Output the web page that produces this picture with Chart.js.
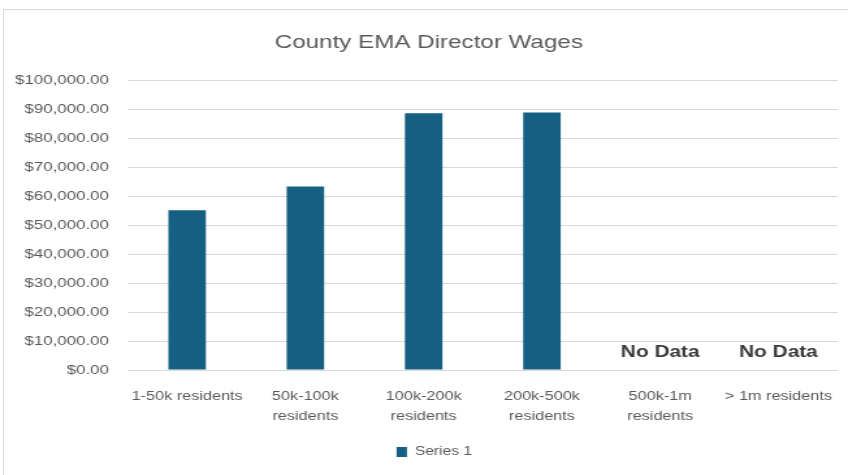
<!DOCTYPE html>
<html>
<head>
<meta charset="utf-8">
<title>County EMA Director Wages</title>
<script src="https://cdn.jsdelivr.net/npm/chart.js@4.4.1/dist/chart.umd.min.js"></script>
<style>
  html, body { margin: 0; padding: 0; background: #ffffff; overflow: hidden; }
  body { width: 848px; height: 475px; position: relative; }
  #frame {
    position: absolute; left: 3px; top: 9px; width: 900px; height: 600px;
    border: 1px solid #d9d9d9; box-sizing: border-box;
  }
  /* the chart is laid out narrow and widened, like the stretched Office export */
  #wrap {
    position: absolute; left: 0; top: 0; width: 652px; height: 475px;
    transform: scaleX(1.3006); transform-origin: 0 0;
  }
</style>
</head>
<body>
<div id="frame"></div>
<div id="wrap"><canvas id="wages"></canvas></div>
<script>
const categories = [
  '1-50k residents',
  ['50k-100k', 'residents'],
  ['100k-200k', 'residents'],
  ['200k-500k', 'residents'],
  ['500k-1m', 'residents'],
  '> 1m residents'
];
const series1 = [55100, 63300, 88500, 88800, null, null];
const yTicksMax = 100000;
const yTicksStep = 10000;

const textGrey = '#595959';
const barBlue = '#156082';
const fontFamily = "'Liberation Sans', Arial, sans-serif";

const money = v => '$' + Number(v).toLocaleString('en-US', { minimumFractionDigits: 2, maximumFractionDigits: 2 });

// writes "No Data" over the categories that have no value
const noDataPlugin = {
  id: 'noData',
  afterDatasetsDraw(chart) {
    const { ctx, scales: { x, y } } = chart;
    ctx.save();
    ctx.font = "bold 16px " + fontFamily;
    ctx.fillStyle = '#3a3a3a';
    ctx.textAlign = 'center';
    ctx.textBaseline = 'middle';
    series1.forEach((v, i) => {
      if (v === null) {
        ctx.fillText('No Data', x.getPixelForValue(i), y.getPixelForValue(0) - 17);
      }
    });
    ctx.restore();
  }
};

// title and legend sit a little right of the canvas centre
const nudgePlugin = {
  id: 'nudge',
  afterLayout(chart) {
    const move = (box, dx) => { if (box) { box.left += dx; box.right += dx; } };
    move(chart.titleBlock, 7.7);
    move(chart.legend, 11.9);
  }
};

new Chart(document.getElementById('wages'), {
  type: 'bar',
  data: {
    labels: categories,
    datasets: [{
      label: 'Series 1',
      data: series1,
      backgroundColor: barBlue,
      borderColor: barBlue,
      borderWidth: 0,
      categoryPercentage: 1,
      barPercentage: 0.317
    }]
  },
  options: {
    responsive: true,
    maintainAspectRatio: false,
    animation: false,
    layout: { padding: { top: 0, left: 0, right: 8, bottom: 7 } },
    plugins: {
      title: {
        display: true,
        text: 'County EMA Director Wages',
        color: textGrey,
        font: { family: fontFamily, size: 18.6, weight: 'normal' },
        padding: { top: 32, bottom: 25.7 }
      },
      legend: {
        position: 'bottom',
        labels: {
          color: textGrey,
          font: { family: fontFamily, size: 12 },
          boxWidth: 8,
          boxHeight: 10,
          padding: 10
        }
      },
      tooltip: { enabled: false }
    },
    scales: {
      x: {
        grid: { display: false },
        border: { display: false },
        ticks: {
          color: textGrey,
          font: { family: fontFamily, size: 12.5, lineHeight: 1.6 },
          padding: 9,
          maxRotation: 0,
          autoSkip: false
        },
        afterFit(scale) { scale.height = 66; }
      },
      y: {
        min: 0,
        max: yTicksMax,
        grid: { color: '#d9d9d9', lineWidth: 1, drawTicks: false },
        border: { display: false },
        ticks: {
          stepSize: yTicksStep,
          color: textGrey,
          font: { family: fontFamily, size: 13 },
          padding: 14.6,
          callback: money
        },
        afterFit(scale) { scale.width = 98.4; }
      }
    }
  },
  plugins: [noDataPlugin, nudgePlugin]
});
</script>
</body>
</html>
